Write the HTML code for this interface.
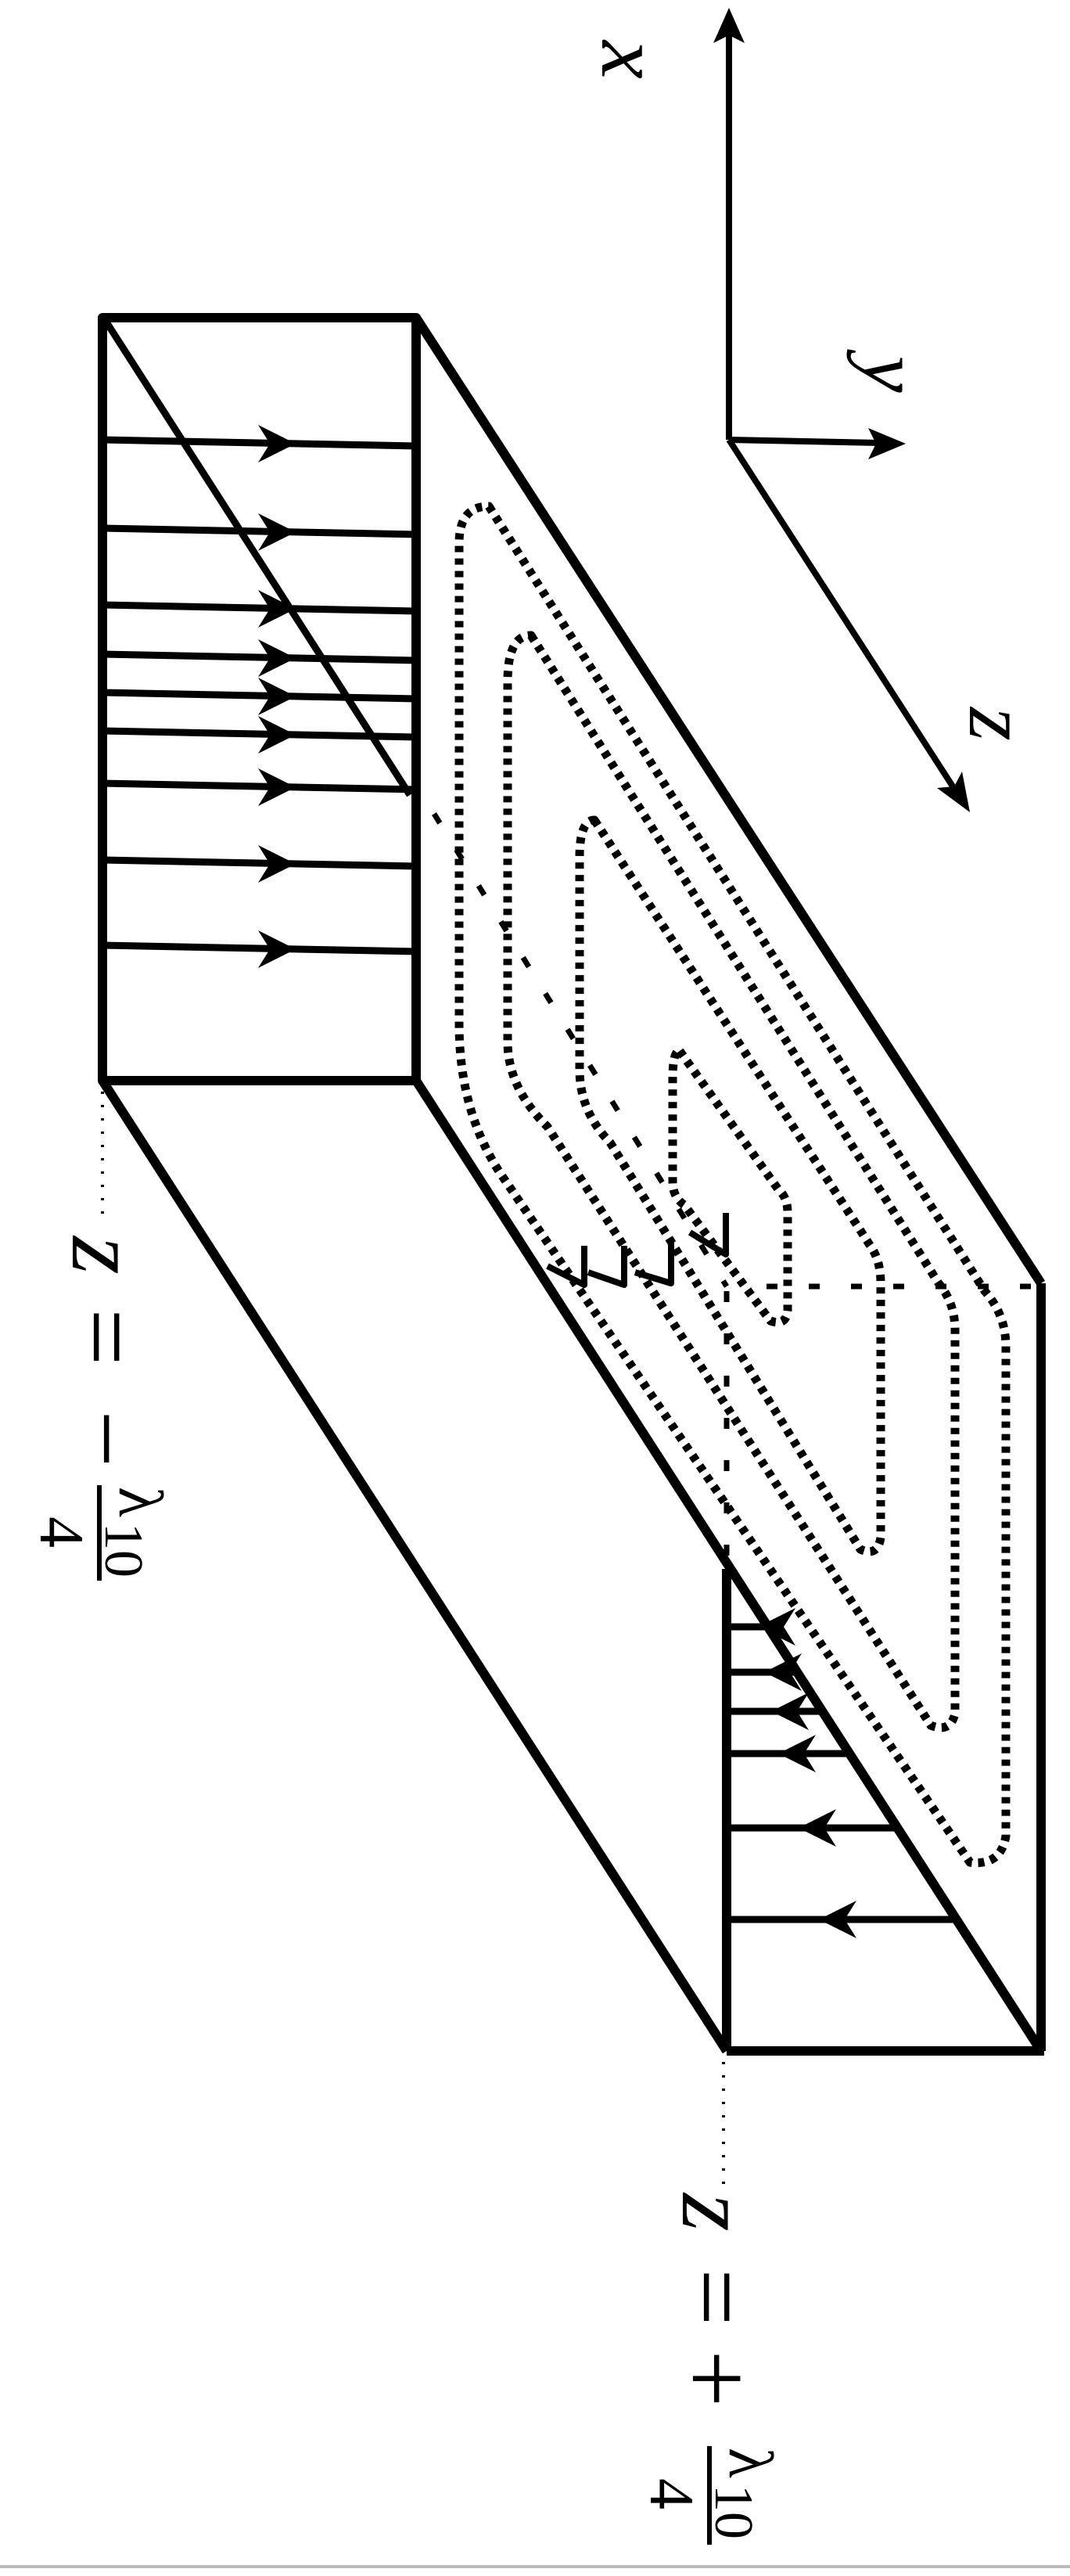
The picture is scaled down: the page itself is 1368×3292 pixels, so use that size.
<!DOCTYPE html>
<html><head><meta charset="utf-8"><style>
html,body{margin:0;padding:0;background:#fff;}
svg{display:block;}
text{font-family:"Liberation Serif",serif;fill:#000;}
</style></head><body>
<svg width="1368" height="3292" viewBox="0 0 1368 3292">
<g fill="none" stroke="#000" stroke-linejoin="round">
  <g stroke-width="12">
    <rect x="131" y="406" width="401" height="975"/>
    <line x1="532" y1="406" x2="1331" y2="1640"/>
    <line x1="1331" y1="1640" x2="1331" y2="2621"/>
    <line x1="929" y1="2005" x2="929" y2="2621"/>
    <line x1="929" y1="2621" x2="1335" y2="2621"/>
    <line x1="131" y1="1381" x2="929" y2="2621"/>
    <line x1="532" y1="1381" x2="1331" y2="2621"/>
  </g>
  <line x1="135" y1="410" x2="524" y2="1016" stroke-width="9"/>
  <g stroke-width="7" stroke-dasharray="14 40">
    <line x1="555" y1="1040" x2="929" y2="1644"/>
    <line x1="980" y1="1644" x2="1331" y2="1644"/>
    <line x1="929" y1="1650" x2="929" y2="2000"/>
  </g>
  <g stroke-width="8">
    <polyline points="700,1618 747,1642 747,1592"/>
    <polyline points="752,1626 798,1642 798,1592"/>
    <polyline points="812,1626 858,1640 858,1585"/>
    <polyline points="882,1575 928,1603 928,1550"/>
  </g>
  <g stroke-width="11" stroke-dasharray="8 8">
    <path d="M625,647 L1259,1650 Q1286,1680 1286,1721 L1286,2346 Q1280,2385 1240,2380 L640,1500 Q587,1420 587,1308 L587,694 Q587,647 625,647 Z"/>
    <path d="M679,812 L1200,1640 Q1221,1665 1221,1700 L1221,2190 Q1215,2215 1190,2205 L700,1440 Q649,1390 649,1331 L649,871 Q649,812 679,812 Z"/>
    <path d="M760,1048 L1112,1591 Q1126,1610 1126,1640 L1126,1965 Q1122,1990 1100,1980 L780,1460 Q741,1420 741,1367 L741,1096 Q741,1048 760,1048 Z"/>
    <path d="M869,1343 L995,1520 Q1007,1530 1007,1550 L1007,1675 Q1005,1695 985,1688 L875,1540 Q860,1530 860,1510 L860,1379 Q860,1343 869,1343 Z"/>
  </g>
  <line x1="131" y1="1395" x2="131" y2="1555" stroke-width="4" stroke-dasharray="3 14"/>
  <line x1="925" y1="2635" x2="925" y2="2795" stroke-width="4" stroke-dasharray="3 14"/>
  <g stroke-width="8">
    <line x1="932" y1="562" x2="932" y2="40"/>
    <line x1="932" y1="562" x2="1125" y2="566"/>
    <line x1="932" y1="562" x2="1220" y2="1008"/>
  </g>
</g>
<g fill="#000">
  <polygon points="932,10 912,55 932,45 952,55"/>
  <polygon points="1158,567 1110,547 1120,567 1110,587"/>
  <polygon points="1240,1038 1230,986 1220,1005 1198,1007"/>
</g>
<g id="front-arrows"></g>
<g id="far-arrows"></g>
<text x="0" y="0" font-size="110" font-style="italic" transform="translate(770,52) rotate(90)">x</text>
<text x="0" y="0" font-size="105" font-style="italic" transform="translate(1105,455) rotate(90)">y</text>
<text x="0" y="0" font-size="110" font-style="italic" transform="translate(1240,904) rotate(90)">z</text>
<g transform="translate(93,1580) rotate(90)">
  <text x="0" y="0" font-size="125" font-style="italic">z</text>
  <text x="92" y="0" font-size="130">=</text>
  <text x="222" y="0" font-size="130">−</text>
  <text x="320" y="-60" font-size="80">λ</text>
  <text x="366" y="-42" font-size="70">10</text>
  <line x1="318" y1="-34" x2="440" y2="-34" stroke="#000" stroke-width="6"/>
  <text x="358" y="41" font-size="80">4</text>
</g>
<g transform="translate(873,2803) rotate(90)">
  <text x="0" y="0" font-size="125" font-style="italic">z</text>
  <text x="96" y="0" font-size="130">=</text>
  <text x="200" y="0" font-size="130">+</text>
  <text x="325" y="-60" font-size="80">λ</text>
  <text x="372" y="-42" font-size="70">10</text>
  <line x1="323" y1="-34" x2="449" y2="-34" stroke="#000" stroke-width="6"/>
  <text x="364" y="41" font-size="80">4</text>
</g>
<line x1="0" y1="3280" x2="1368" y2="3280" stroke="#bbb" stroke-width="4"/>
</svg>
<script>
const frontLineY = [567, 680, 778, 841, 890, 939, 1006, 1104, 1213];
const farLineY = [2079, 2137, 2187, 2241, 2336, 2453];
const farTipX = [969, 977, 986, 995, 1021, 1047];
const NS = 'http://www.w3.org/2000/svg';
const fg = document.getElementById('front-arrows');
frontLineY.forEach((y, i) => {
  const l = document.createElementNS(NS, 'line');
  l.setAttribute('x1', 131); l.setAttribute('y1', y - 5);
  l.setAttribute('x2', 532); l.setAttribute('y2', y + 3);
  l.setAttribute('stroke', '#000'); l.setAttribute('stroke-width', 9);
  
  
  fg.appendChild(l);
  const p = document.createElementNS(NS, 'polygon');
  p.setAttribute('points', `378,${y} 330,${y-24} 345,${y} 330,${y+24}`);
  p.setAttribute('fill', '#000');
  
  
  fg.appendChild(p);
});
const ag = document.getElementById('far-arrows');
farLineY.forEach((y, i) => {
  const diag = 532 + 0.644 * (y - 1381);
  const l = document.createElementNS(NS, 'line');
  l.setAttribute('x1', 929); l.setAttribute('y1', y);
  l.setAttribute('x2', diag); l.setAttribute('y2', y);
  l.setAttribute('stroke', '#000'); l.setAttribute('stroke-width', 9);
  
  
  ag.appendChild(l);
  const t = farTipX[i];
  const p = document.createElementNS(NS, 'polygon');
  p.setAttribute('points', `${t},${y} ${t+48},${y-24} ${t+33},${y} ${t+48},${y+24}`);
  p.setAttribute('fill', '#000');
  
  
  ag.appendChild(p);
});
</script>
</body></html>
